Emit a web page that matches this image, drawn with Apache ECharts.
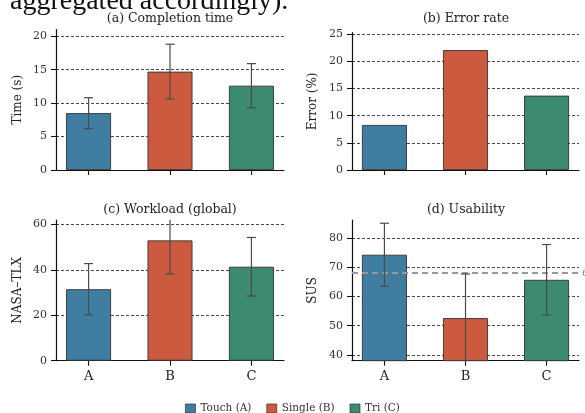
<!DOCTYPE html>
<html>
<head>
<meta charset="utf-8">
<script src="https://cdn.jsdelivr.net/npm/echarts@6/dist/echarts.min.js"></script>
<style>
html,body{margin:0;padding:0;background:#fff;}
#chart{width:585px;height:413px;}
</style>
</head>
<body>
<div id="chart"></div>
<script>
// ---- data ----
const categories = ['A', 'B', 'C'];
const groups = ['Touch (A)', 'Single (B)', 'Tri (C)'];
const colors = ['#3f7da1', '#cb5a3f', '#3c8a6f'];

const timeMean = [8.5, 14.7, 12.6];
const timeSd = [2.3, 4.1, 3.3];
const errorMean = [8.3, 22.1, 13.7];
const tlxMean = [31.5, 53.0, 41.4];
const tlxSd = [11.3, 14.8, 12.9];
const susMean = [74.3, 52.6, 65.7];
const susSd = [10.8, 15.1, 12.1];
const susBenchmark = 68;

const timeTicks = [0, 5, 10, 15, 20];
const errorTicks = [0, 5, 10, 15, 20, 25];
const tlxTicks = [0, 20, 40, 60];
const susTicks = [40, 50, 60, 70, 80];

const panelTitles = ['(a) Completion time', '(b) Error rate', '(c) Workload (global)', '(d) Usability'];
const yNames = ['Time (s)', 'Error (%)', 'NASA\u2013TLX', 'SUS'];
const headerText = 'aggregated accordingly).';

// ---- layout ----
const FONT = 'DejaVu Serif';
const grids = [
  {left: 56, top: 29.5, width: 228, height: 140.5},
  {left: 352, top: 32.7, width: 227, height: 137.3},
  {left: 56, top: 220, width: 228, height: 140.7},
  {left: 352, top: 220, width: 227, height: 140.7}
];
const yRanges = [[0, 21], [0, 25.3], [0, 62], [38, 86.2]];
const yTicks = [timeTicks, errorTicks, tlxTicks, susTicks];
const means = [timeMean, errorMean, tlxMean, susMean];
const sds = [timeSd, null, tlxSd, susSd];
const catIdx = categories.map((c, i) => i);

const xAxes = grids.map((g, i) => ({
  type: 'value', gridIndex: i, min: -0.4, max: 2.4,
  axisLine: {show: true, onZero: false, lineStyle: {color: '#111', width: 1.2}},
  axisTick: {show: true, length: 5, customValues: catIdx, lineStyle: {color: '#111', width: 1.1}},
  axisLabel: {show: i >= 2, customValues: catIdx, formatter: v => categories[Math.round(v)] || '',
    margin: 9, fontFamily: FONT, fontSize: 13, color: '#222'},
  splitLine: {show: false}
}));

const yAxes = grids.map((g, i) => ({
  type: 'value', gridIndex: i, min: yRanges[i][0], max: yRanges[i][1],
  name: yNames[i], nameLocation: 'middle', nameGap: i % 2 === 0 ? 32 : 33,
  nameTextStyle: {fontFamily: FONT, fontSize: 12, color: '#222'},
  axisLine: {show: true, onZero: false, lineStyle: {color: '#111', width: 1.2}},
  axisTick: {show: true, length: 5, customValues: yTicks[i], lineStyle: {color: '#111', width: 1.1}},
  axisLabel: {customValues: yTicks[i], margin: 9, fontFamily: FONT, fontSize: 11, color: '#333'},
  splitLine: {show: true, lineStyle: {color: '#333', width: 0.9, type: [3, 2]}}
}));

const series = [];
means.forEach((arr, i) => {
  const s = {
    type: 'bar', xAxisIndex: i, yAxisIndex: i, barWidth: 45,
    data: arr.map((v, k) => ({value: [k, v], itemStyle: {color: colors[k]}})),
    itemStyle: {borderColor: '#333', borderWidth: 0.9},
    silent: true, z: 3
  };
  if (i === 3) {
    s.markLine = {
      symbol: 'none', silent: true,
      lineStyle: {color: '#999', width: 1.8, type: [6, 4]},
      label: {show: true, position: 'end', formatter: String(susBenchmark), distance: 3,
        fontFamily: FONT, fontSize: 10, color: '#888'},
      data: [{yAxis: susBenchmark}]
    };
  }
  series.push(s);
  if (sds[i]) {
    series.push({
      type: 'custom', xAxisIndex: i, yAxisIndex: i, z: 5, silent: true,
      data: arr.map((v, k) => [k, v, sds[i][k]]),
      renderItem: function (params, api) {
        const cs = params.coordSys;
        const x = api.value(0), m = api.value(1), s = api.value(2);
        const pTop = api.coord([x, m + s]);
        const pBot = api.coord([x, m - s]);
        const yMin = cs.y, yMax = cs.y + cs.height;
        const cx = pTop[0];
        const ty = Math.max(pTop[1], yMin), by = Math.min(pBot[1], yMax);
        const st = {stroke: '#4a4a4a', lineWidth: 1.2};
        const ch = [{type: 'line', shape: {x1: cx, y1: ty, x2: cx, y2: by}, style: st}];
        const hw = 4.5;
        if (pTop[1] >= yMin) ch.push({type: 'line', shape: {x1: cx - hw, y1: pTop[1], x2: cx + hw, y2: pTop[1]}, style: st});
        if (pBot[1] <= yMax) ch.push({type: 'line', shape: {x1: cx - hw, y1: pBot[1], x2: cx + hw, y2: pBot[1]}, style: st});
        return {type: 'group', children: ch};
      }
    });
  }
});
// legend entries
groups.forEach((g, k) => {
  series.push({type: 'line', name: g, xAxisIndex: 0, yAxisIndex: 0, data: [],
    color: colors[k], itemStyle: {color: colors[k]}, lineStyle: {color: colors[k]}});
});

const titleCenters = [[170, 19], [466, 19], [170, 210], [466, 210]];
const graphic = panelTitles.map((t, i) => ({
  type: 'text', x: titleCenters[i][0], y: titleCenters[i][1],
  style: {text: t, font: '12.5px "' + FONT + '"', fill: '#222', align: 'center', verticalAlign: 'middle'}
}));
graphic.push({type: 'text', x: 10, y: 16,
  style: {text: headerText, font: '28px "Liberation Serif"', fill: '#111', align: 'left', verticalAlign: 'bottom'}});

const option = {
  animation: false,
  backgroundColor: '#fff',
  grid: grids.map(g => Object.assign({containLabel: false}, g)),
  xAxis: xAxes,
  yAxis: yAxes,
  legend: {
    data: groups, top: 398, left: 'center', icon: 'rect', itemWidth: 10, itemHeight: 9, itemGap: 15,
    itemStyle: {borderColor: '#333', borderWidth: 0.7},
    textStyle: {fontFamily: FONT, fontSize: 10.5, color: '#333'}
  },
  graphic: graphic,
  series: series
};
const chart = echarts.init(document.getElementById('chart'), null, {renderer: 'canvas'});
chart.setOption(option);
</script>
</body>
</html>
